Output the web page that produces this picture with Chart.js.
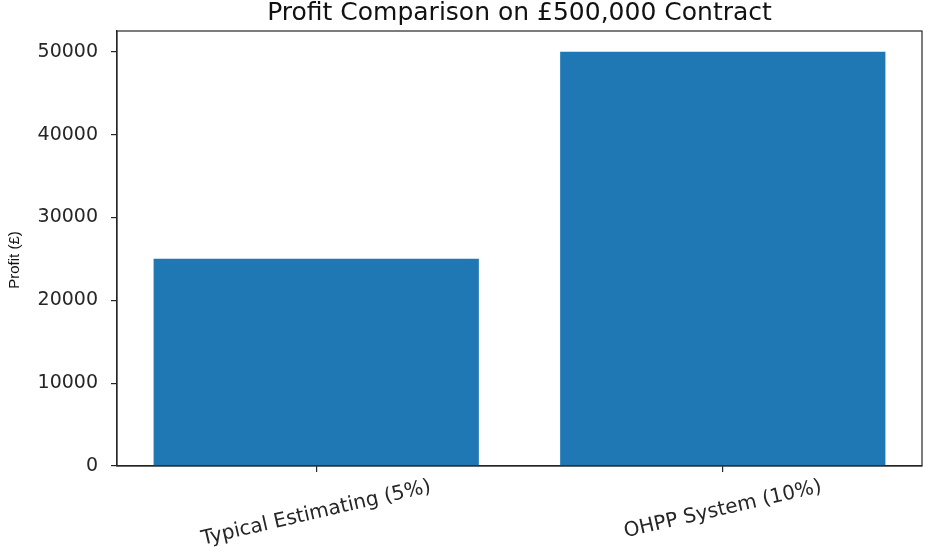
<!DOCTYPE html>
<html>
<head>
<meta charset="utf-8">
<script src="https://cdn.jsdelivr.net/npm/chart.js@4"></script>
<style>
  html, body { margin: 0; padding: 0; background: #fff; }
  #wrap { width: 925px; height: 547px; }
</style>
</head>
<body>
<div id="wrap"><canvas id="profitChart" width="925" height="547"></canvas></div>
<script>
// Chart data
const categories = ["Typical Estimating (5%)", "OHPP System (10%)"];
const profits = [25000, 50000];
const yTicks = [0, 10000, 20000, 30000, 40000, 50000];
const chartTitle = 'Profit Comparison on £500,000 Contract';
const yLabel = 'Profit (£)';

const axisColor = '#262626';
const barColor = '#1f77b4';
const tickFont = { family: 'DejaVu Sans', size: 19 };

// Draws the box around the plot, the title, the y label and the rotated category labels
const framePlugin = {
  id: 'frame',
  afterDraw(chart) {
    const { ctx, chartArea } = chart;
    const xScale = chart.scales.x;
    ctx.save();
    ctx.strokeStyle = axisColor;
    ctx.lineWidth = 1.2;
    ctx.strokeRect(chartArea.left, chartArea.top, chartArea.right - chartArea.left, chartArea.bottom - chartArea.top);

    // title, centred over the plot area
    ctx.fillStyle = '#111';
    ctx.font = '25px "DejaVu Sans"';
    ctx.textAlign = 'center';
    ctx.textBaseline = 'middle';
    ctx.fillText(chartTitle, (chartArea.left + chartArea.right) / 2, 13);

    // y axis label
    ctx.font = '15px "Liberation Sans"';
    ctx.save();
    ctx.translate(15, 260);
    ctx.rotate(-Math.PI / 2);
    ctx.fillText(yLabel, 0, 0);
    ctx.restore();

    // category labels, rotated and centred under each tick
    const angle = 13 * Math.PI / 180;
    const size = 20;
    ctx.font = size + 'px "' + tickFont.family + '"';
    ctx.fillStyle = axisColor;
    categories.forEach((label, i) => {
      const w = ctx.measureText(label).width;
      const boxH = w * Math.sin(angle) + size * Math.cos(angle);
      const cx = xScale.getPixelForValue(i);
      const cy = chartArea.bottom + 11 + boxH / 2;
      ctx.save();
      ctx.translate(cx, cy);
      ctx.rotate(-angle);
      ctx.fillText(label, 0, 0);
      ctx.restore();
    });
    ctx.restore();
  }
};

const ctx = document.getElementById('profitChart').getContext('2d');
new Chart(ctx, {
  type: 'bar',
  data: {
    datasets: [{
      data: profits.map((v, i) => ({ x: i, y: v })),
      backgroundColor: barColor,
      borderWidth: 0,
      barPercentage: 0.8,
      categoryPercentage: 1.0
    }]
  },
  options: {
    responsive: false,
    animation: false,
    layout: { padding: { left: 0, right: 3, top: 31, bottom: 0 } },
    plugins: {
      legend: { display: false },
      tooltip: { enabled: false },
      title: { display: false }
    },
    scales: {
      x: {
        type: 'linear',
        min: -0.49,
        max: 1.49,
        offset: false,
        afterBuildTicks: scale => { scale.ticks = categories.map((c, i) => ({ value: i })); },
        afterFit: scale => { scale.height = 81; },
        ticks: { display: false },
        grid: { offset: false, drawOnChartArea: false, drawTicks: true, tickLength: 6, color: axisColor, lineWidth: 1.2 },
        border: { display: true, color: axisColor, width: 1.2 }
      },
      y: {
        min: 0,
        max: 52500,
        afterBuildTicks: scale => { scale.ticks = yTicks.map(v => ({ value: v })); },
        afterFit: scale => { scale.width = 117; },
        ticks: {
          color: axisColor,
          font: tickFont,
          padding: 13,
          callback: v => String(v)
        },
        grid: { drawOnChartArea: false, drawTicks: true, tickLength: 6, color: axisColor, lineWidth: 1.2 },
        border: { display: true, color: axisColor, width: 1.2 }
      }
    }
  },
  plugins: [framePlugin]
});
</script>
</body>
</html>
